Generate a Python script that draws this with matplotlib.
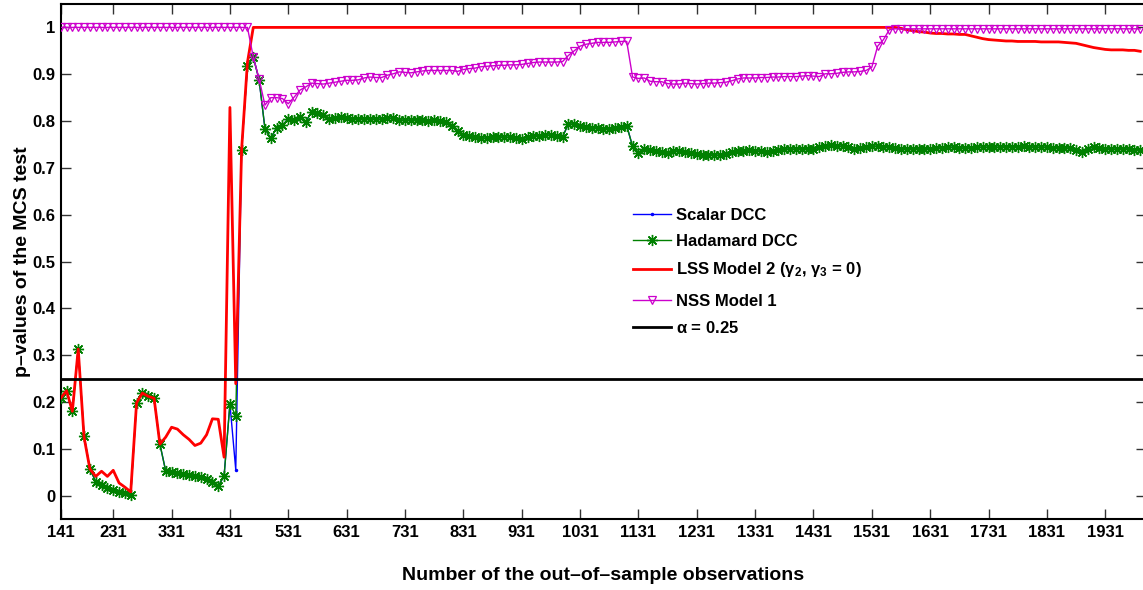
import numpy as np
import matplotlib
matplotlib.use("Agg")
import matplotlib.pyplot as plt

# Out-of-sample observation index (one evaluation every 10 observations)
obs = np.arange(141, 1992, 10)

scalar_dcc = [
    0.208, 0.224, 0.180, 0.313, 0.128, 0.057, 0.030, 0.022, 0.016, 0.011,
    0.007, 0.005, 0.002, 0.198, 0.219, 0.212, 0.208, 0.110, 0.052, 0.050,
    0.048, 0.046, 0.044, 0.042, 0.039, 0.036, 0.030, 0.020, 0.042, 0.196,
    0.055, 0.739, 0.917, 0.937, 0.888, 0.784, 0.763, 0.786, 0.791, 0.805,
    0.803, 0.809, 0.798, 0.820, 0.818, 0.812, 0.804, 0.807, 0.809, 0.807,
    0.805, 0.805, 0.805, 0.805, 0.804, 0.804, 0.806, 0.806, 0.802, 0.802,
    0.802, 0.803, 0.802, 0.801, 0.802, 0.800, 0.797, 0.790, 0.778, 0.770,
    0.767, 0.766, 0.764, 0.763, 0.766, 0.766, 0.766, 0.765, 0.764, 0.761,
    0.766, 0.768, 0.769, 0.770, 0.770, 0.768, 0.766, 0.794, 0.793, 0.790,
    0.788, 0.786, 0.785, 0.784, 0.784, 0.785, 0.787, 0.790, 0.746, 0.731,
    0.741, 0.739, 0.737, 0.733, 0.731, 0.735, 0.737, 0.733, 0.731, 0.730,
    0.728, 0.728, 0.727, 0.727, 0.730, 0.733, 0.735, 0.737, 0.739, 0.737,
    0.735, 0.734, 0.736, 0.738, 0.740, 0.740, 0.740, 0.741, 0.741, 0.741,
    0.744, 0.747, 0.748, 0.747, 0.746, 0.744, 0.741, 0.742, 0.744, 0.746,
    0.746, 0.745, 0.745, 0.742, 0.741, 0.741, 0.741, 0.741, 0.740, 0.741,
    0.742, 0.743, 0.744, 0.744, 0.743, 0.742, 0.743, 0.744, 0.744, 0.744,
    0.744, 0.744, 0.745, 0.745, 0.745, 0.746, 0.745, 0.744, 0.744, 0.744,
    0.743, 0.743, 0.743, 0.742, 0.739, 0.734, 0.740, 0.745, 0.743, 0.741,
    0.740, 0.740, 0.741, 0.740, 0.739, 0.739,
]

hadamard_dcc = [
    0.208, 0.224, 0.180, 0.313, 0.128, 0.057, 0.030, 0.022, 0.016, 0.011,
    0.007, 0.005, 0.002, 0.198, 0.219, 0.212, 0.208, 0.110, 0.052, 0.050,
    0.048, 0.046, 0.044, 0.042, 0.039, 0.036, 0.030, 0.020, 0.042, 0.196,
    0.171, 0.739, 0.917, 0.937, 0.888, 0.784, 0.763, 0.786, 0.791, 0.805,
    0.803, 0.809, 0.798, 0.820, 0.818, 0.812, 0.804, 0.807, 0.809, 0.807,
    0.805, 0.805, 0.805, 0.805, 0.804, 0.804, 0.806, 0.806, 0.802, 0.802,
    0.802, 0.803, 0.802, 0.801, 0.802, 0.800, 0.797, 0.790, 0.778, 0.770,
    0.767, 0.766, 0.764, 0.763, 0.766, 0.766, 0.766, 0.765, 0.764, 0.761,
    0.766, 0.768, 0.769, 0.770, 0.770, 0.768, 0.766, 0.794, 0.793, 0.790,
    0.788, 0.786, 0.785, 0.784, 0.784, 0.785, 0.787, 0.790, 0.746, 0.731,
    0.741, 0.739, 0.737, 0.733, 0.731, 0.735, 0.737, 0.733, 0.731, 0.730,
    0.728, 0.728, 0.727, 0.727, 0.730, 0.733, 0.735, 0.737, 0.739, 0.737,
    0.735, 0.734, 0.736, 0.738, 0.740, 0.740, 0.740, 0.741, 0.741, 0.741,
    0.744, 0.747, 0.748, 0.747, 0.746, 0.744, 0.741, 0.742, 0.744, 0.746,
    0.746, 0.745, 0.745, 0.742, 0.741, 0.741, 0.741, 0.741, 0.740, 0.741,
    0.742, 0.743, 0.744, 0.744, 0.743, 0.742, 0.743, 0.744, 0.744, 0.744,
    0.744, 0.744, 0.745, 0.745, 0.745, 0.746, 0.745, 0.744, 0.744, 0.744,
    0.743, 0.743, 0.743, 0.742, 0.739, 0.734, 0.740, 0.745, 0.743, 0.741,
    0.740, 0.740, 0.741, 0.740, 0.739, 0.739,
]

lss_model2 = [
    0.208, 0.224, 0.180, 0.313, 0.125, 0.057, 0.041, 0.052, 0.041, 0.054,
    0.027, 0.018, 0.008, 0.198, 0.219, 0.212, 0.208, 0.110, 0.125, 0.146,
    0.142, 0.130, 0.120, 0.107, 0.112, 0.130, 0.164, 0.163, 0.082, 0.829,
    0.239, 0.739, 0.925, 1.000, 1.000, 1.000, 1.000, 1.000, 1.000, 1.000,
    1.000, 1.000, 1.000, 1.000, 1.000, 1.000, 1.000, 1.000, 1.000, 1.000,
    1.000, 1.000, 1.000, 1.000, 1.000, 1.000, 1.000, 1.000, 1.000, 1.000,
    1.000, 1.000, 1.000, 1.000, 1.000, 1.000, 1.000, 1.000, 1.000, 1.000,
    1.000, 1.000, 1.000, 1.000, 1.000, 1.000, 1.000, 1.000, 1.000, 1.000,
    1.000, 1.000, 1.000, 1.000, 1.000, 1.000, 1.000, 1.000, 1.000, 1.000,
    1.000, 1.000, 1.000, 1.000, 1.000, 1.000, 1.000, 1.000, 1.000, 1.000,
    1.000, 1.000, 1.000, 1.000, 1.000, 1.000, 1.000, 1.000, 1.000, 1.000,
    1.000, 1.000, 1.000, 1.000, 1.000, 1.000, 1.000, 1.000, 1.000, 1.000,
    1.000, 1.000, 1.000, 1.000, 1.000, 1.000, 1.000, 1.000, 1.000, 1.000,
    1.000, 1.000, 1.000, 1.000, 1.000, 1.000, 1.000, 1.000, 1.000, 1.000,
    1.000, 1.000, 1.000, 1.000, 0.998, 0.995, 0.993, 0.991, 0.990, 0.988,
    0.987, 0.987, 0.986, 0.986, 0.985, 0.985, 0.982, 0.979, 0.976, 0.974,
    0.973, 0.972, 0.971, 0.971, 0.970, 0.970, 0.970, 0.970, 0.969, 0.969,
    0.969, 0.969, 0.968, 0.967, 0.966, 0.963, 0.960, 0.957, 0.955, 0.953,
    0.952, 0.952, 0.952, 0.951, 0.951, 0.949,
]

nss_model1 = [
    1.000, 1.000, 1.000, 1.000, 1.000, 1.000, 1.000, 1.000, 1.000, 1.000,
    1.000, 1.000, 1.000, 1.000, 1.000, 1.000, 1.000, 1.000, 1.000, 1.000,
    1.000, 1.000, 1.000, 1.000, 1.000, 1.000, 1.000, 1.000, 1.000, 1.000,
    1.000, 1.000, 1.000, 0.937, 0.890, 0.834, 0.850, 0.850, 0.848, 0.837,
    0.851, 0.866, 0.873, 0.881, 0.880, 0.879, 0.881, 0.883, 0.885, 0.887,
    0.887, 0.888, 0.892, 0.894, 0.893, 0.893, 0.898, 0.901, 0.905, 0.904,
    0.903, 0.905, 0.907, 0.908, 0.908, 0.908, 0.908, 0.908, 0.906, 0.910,
    0.912, 0.913, 0.916, 0.917, 0.918, 0.919, 0.919, 0.920, 0.920, 0.921,
    0.923, 0.925, 0.926, 0.926, 0.926, 0.926, 0.927, 0.940, 0.950, 0.960,
    0.964, 0.966, 0.968, 0.968, 0.968, 0.969, 0.970, 0.970, 0.894, 0.891,
    0.892, 0.885, 0.884, 0.884, 0.880, 0.879, 0.879, 0.881, 0.880, 0.879,
    0.880, 0.881, 0.881, 0.882, 0.883, 0.886, 0.890, 0.892, 0.892, 0.892,
    0.893, 0.893, 0.894, 0.894, 0.895, 0.895, 0.895, 0.896, 0.897, 0.896,
    0.895, 0.901, 0.901, 0.902, 0.904, 0.905, 0.905, 0.906, 0.908, 0.915,
    0.960, 0.974, 0.995, 0.997, 0.997, 0.997, 0.997, 0.997, 0.997, 0.997,
    0.997, 0.997, 0.997, 0.997, 0.997, 0.997, 0.997, 0.997, 0.997, 0.997,
    0.997, 0.997, 0.997, 0.997, 0.997, 0.997, 0.997, 0.997, 0.997, 0.997,
    0.997, 0.997, 0.997, 0.997, 0.997, 0.997, 0.997, 0.997, 0.997, 0.997,
    0.997, 0.997, 0.997, 0.997, 0.997, 0.997,
]

alpha_level = 0.25

x_ticks = [141, 231, 331, 431, 531, 631, 731, 831, 931, 1031, 1131, 1231,
           1331, 1431, 1531, 1631, 1731, 1831, 1931]
y_ticks = [0, 0.1, 0.2, 0.3, 0.4, 0.5, 0.6, 0.7, 0.8, 0.9, 1]
y_tick_labels = ["0", "0.1", "0.2", "0.3", "0.4", "0.5", "0.6", "0.7",
                 "0.8", "0.9", "1"]

plt.rcParams["font.family"] = ["Liberation Sans", "DejaVu Sans"]
plt.rcParams["font.weight"] = "bold"
plt.rcParams["mathtext.fontset"] = "custom"
plt.rcParams["mathtext.rm"] = "Liberation Sans"
plt.rcParams["mathtext.it"] = "Liberation Sans:italic"
plt.rcParams["mathtext.bf"] = "Liberation Sans:bold"
plt.rcParams["mathtext.default"] = "regular"

fig = plt.figure(figsize=(11.43, 5.90), dpi=100)
ax = fig.add_axes([60.7 / 1143, 71 / 590, (1145.5 - 60.7) / 1143, 515 / 590])

# 8-armed asterisk, like a classic '*' plot marker
asterisk = (8, 2, 0)

h_scalar, = ax.plot(obs, scalar_dcc, color="#0000ff", lw=1.0, marker=".",
                    markersize=3, label="Scalar DCC", zorder=2)
h_hadamard, = ax.plot(obs, hadamard_dcc, color="#008000", lw=1.0,
                      marker=asterisk, markersize=8, markeredgewidth=1.0,
                      label="Hadamard DCC", zorder=3)
h_lss, = ax.plot(obs, lss_model2, color="#ff0000", lw=2.0,
                 label=r"LSS Model 2 ($\gamma_2$, $\gamma_3$ = 0)", zorder=4)
h_nss, = ax.plot(obs, nss_model1, color="#cc00cc", lw=1.0, marker="v",
                 markersize=6, markerfacecolor="none", markeredgewidth=0.9,
                 label="NSS Model 1", zorder=5)
h_alpha = ax.axhline(alpha_level, color="black", lw=2.0,
                     label=r"$\alpha$ = 0.25", zorder=6)

ax.set_xlim(141, 2000)
ax.set_ylim(-0.05, 1.05)
ax.set_xticks(x_ticks)
ax.set_xticklabels([str(t) for t in x_ticks])
ax.set_yticks(y_ticks)
ax.set_yticklabels(y_tick_labels)

ax.tick_params(axis="both", which="both", direction="in", length=7,
               width=1.0, color="#333333", labelsize=12, top=True,
               right=True, pad=4)
for sp in ax.spines.values():
    sp.set_linewidth(1.5)

ax.set_xlabel("Number of the out\u2013of\u2013sample observations",
              fontsize=14, fontweight="bold", labelpad=20)
ax.set_ylabel("p\u2013values of the MCS test", fontsize=14,
              fontweight="bold", labelpad=1)

legend_kw = dict(loc="upper left", frameon=False, fontsize=12,
                 handlelength=2.3, handletextpad=0.3, labelspacing=0.67,
                 borderpad=0)
leg_top = ax.legend(handles=[h_scalar, h_hadamard, h_lss],
                    bbox_to_anchor=(0.52, 0.620), **legend_kw)
ax.add_artist(leg_top)
ax.legend(handles=[h_nss, h_alpha], bbox_to_anchor=(0.52, 0.454),
          **legend_kw)

fig.savefig("out.png", dpi=100)
